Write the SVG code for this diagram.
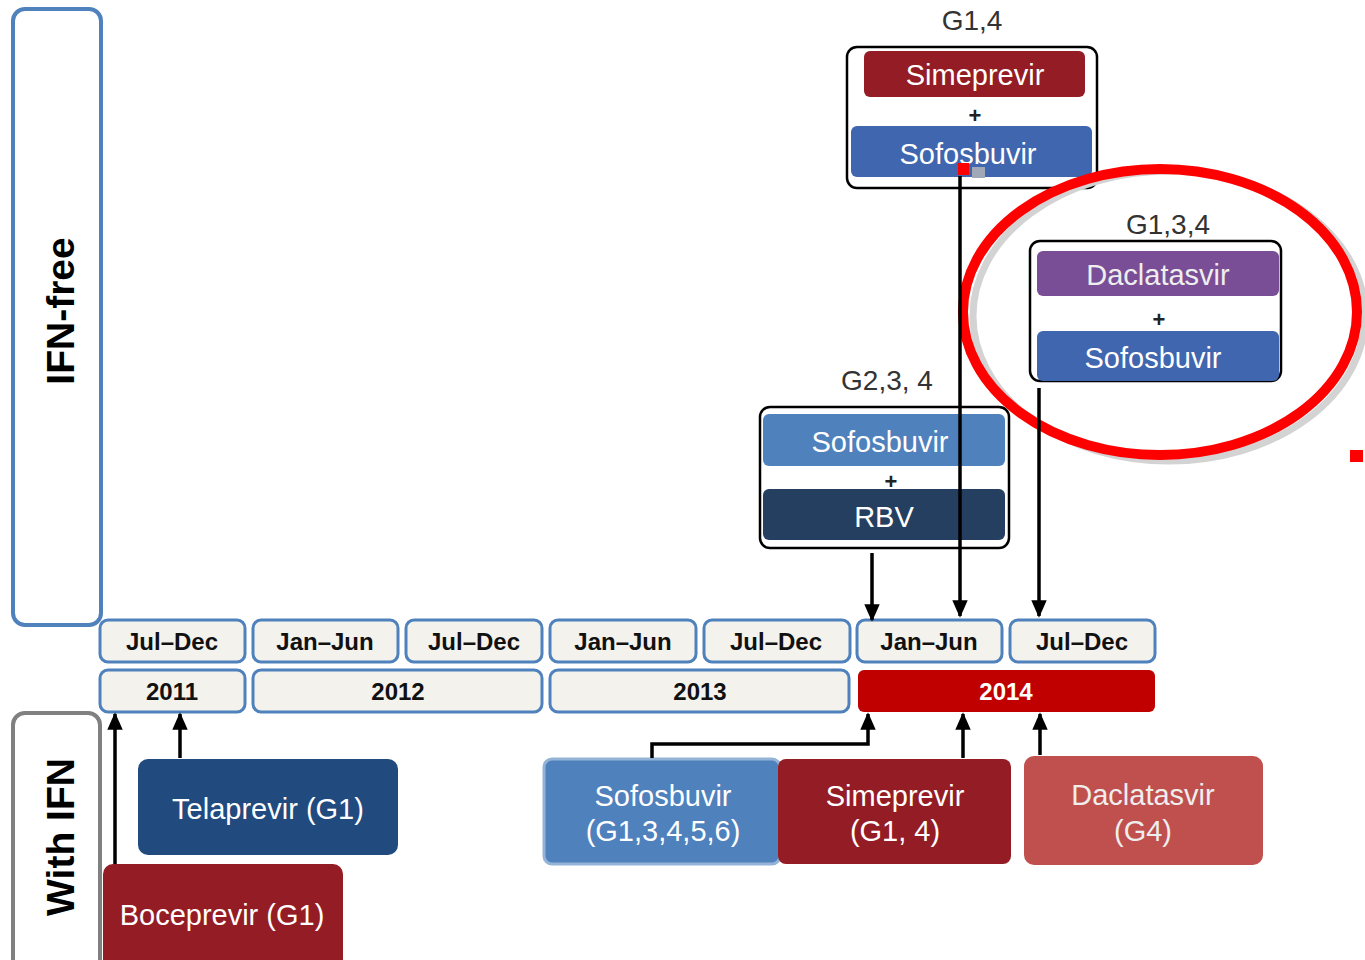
<svg xmlns="http://www.w3.org/2000/svg" width="1365" height="960" viewBox="0 0 1365 960">
<defs>
<marker id="ah" viewBox="0 0 10 10" refX="9" refY="5" markerWidth="5" markerHeight="4.4" orient="auto" markerUnits="strokeWidth" preserveAspectRatio="none">
<path d="M0,0 L10,5 L0,10 z" fill="#000"/>
</marker>
<style>
text{font-family:"Liberation Sans",Arial,sans-serif;}
.side{fill:#fff;stroke-width:4;}
.sidet{font-size:39px;font-weight:bold;fill:#000;text-anchor:middle;}
.tl{fill:#F3F2EC;stroke:#4F81BD;stroke-width:3;}
.tlt{font-size:24px;font-weight:bold;fill:#111;text-anchor:middle;}
.grp{fill:#fff;stroke:#000;stroke-width:2.5;}
.lbl{font-size:28px;fill:#333;text-anchor:middle;}
.bt{font-size:29px;fill:#fff;text-anchor:middle;}
.plus{font-size:22px;font-weight:bold;fill:#222;text-anchor:middle;}
.con{fill:none;stroke:#000;stroke-width:3.5;marker-end:url(#ah);}
</style>
</defs>

<g id="ifn-free">
<rect class="side" x="13" y="9" width="88" height="616" rx="12" stroke="#4F81BD"/>
<text class="sidet" transform="translate(74,311) rotate(-90)">IFN-free</text>
</g>
<g id="with-ifn">
<rect class="side" x="13" y="713" width="87" height="262" rx="12" stroke="#808080"/>
<text class="sidet" transform="translate(74,837) rotate(-90)">With IFN</text>
</g>

<g id="timeline-months">
<rect class="tl" x="100" y="620" width="145" height="42" rx="8"/><text class="tlt" x="172" y="650">Jul–Dec</text>
<rect class="tl" x="253" y="620" width="145" height="42" rx="8"/><text class="tlt" x="325" y="650">Jan–Jun</text>
<rect class="tl" x="406" y="620" width="136" height="42" rx="8"/><text class="tlt" x="474" y="650">Jul–Dec</text>
<rect class="tl" x="550" y="620" width="146" height="42" rx="8"/><text class="tlt" x="623" y="650">Jan–Jun</text>
<rect class="tl" x="704" y="620" width="146" height="42" rx="8"/><text class="tlt" x="776" y="650">Jul–Dec</text>
<rect class="tl" x="857" y="620" width="145" height="42" rx="8"/><text class="tlt" x="929" y="650">Jan–Jun</text>
<rect class="tl" x="1010" y="620" width="145" height="42" rx="8"/><text class="tlt" x="1082" y="650">Jul–Dec</text>
</g>
<g id="timeline-years">
<rect class="tl" x="100" y="670" width="145" height="42" rx="8"/><text class="tlt" x="172" y="700">2011</text>
<rect class="tl" x="253" y="670" width="289" height="42" rx="8"/><text class="tlt" x="398" y="700">2012</text>
<rect class="tl" x="550" y="670" width="299" height="42" rx="8"/><text class="tlt" x="700" y="700">2013</text>
<rect x="858" y="670" width="297" height="42" rx="6" fill="#C00000"/><text class="tlt" x="1006" y="700" style="fill:#fff">2014</text>
</g>

<g id="g14">
<text class="lbl" x="972" y="30">G1,4</text>
<rect class="grp" x="847" y="47" width="250" height="141" rx="10"/>
<rect x="864" y="51" width="221" height="46" rx="6" fill="#941C25"/>
<text class="bt" x="975" y="85">Simeprevir</text>
<text class="plus" x="975" y="123">+</text>
<rect x="851" y="126" width="241" height="51" rx="6" fill="#3F66AE"/>
<text class="bt" x="968" y="164">Sofosbuvir</text>
<rect x="958" y="163" width="11" height="12" fill="#FF0000"/>
<rect x="972" y="167" width="13" height="11" fill="#A0A8B8"/>
</g>

<g id="highlight">
<ellipse cx="1169" cy="316" rx="196" ry="145" fill="none" stroke="#D3D3D3" stroke-width="7"/>
<ellipse cx="1160" cy="312" rx="197" ry="143" fill="none" stroke="#FF0000" stroke-width="10"/>
</g>

<g id="g134">
<text class="lbl" x="1168" y="234">G1,3,4</text>
<rect class="grp" x="1030" y="241" width="251" height="140" rx="10"/>
<rect x="1037" y="251" width="242" height="45" rx="6" fill="#7A4E96"/>
<text class="bt" x="1158" y="285" style="fill:#eee">Daclatasvir</text>
<text class="plus" x="1159" y="327">+</text>
<rect x="1037" y="331" width="242" height="50" rx="6" fill="#3F66AE"/>
<text class="bt" x="1153" y="368">Sofosbuvir</text>
</g>

<g id="g234">
<text class="lbl" x="887" y="390">G2,3, 4</text>
<rect class="grp" x="760" y="407" width="249" height="141" rx="10"/>
<rect x="763" y="414" width="242" height="52" rx="6" fill="#4F81BD"/>
<text class="bt" x="880" y="452">Sofosbuvir</text>
<text class="plus" x="891" y="489">+</text>
<rect x="763" y="489" width="242" height="51" rx="6" fill="#243F60"/>
<text class="bt" x="884" y="527">RBV</text>
</g>

<rect x="1350" y="450" width="13" height="12" fill="#FF0000"/>

<g id="telaprevir">
<rect x="138" y="759" width="260" height="96" rx="10" fill="#214A7E"/>
<text class="bt" x="268" y="819">Telaprevir (G1)</text>
</g>
<g id="boceprevir">
<rect x="103" y="864" width="240" height="110" rx="10" fill="#941C25"/>
<text class="bt" x="222" y="925">Boceprevir (G1)</text>
</g>
<g id="sofosbuvir-ifn">
<rect x="544" y="759" width="236" height="105" rx="8" fill="#4F81BD" stroke="#95B3D7" stroke-width="3"/>
<text class="bt" x="663" y="806">Sofosbuvir</text>
<text class="bt" x="663" y="841">(G1,3,4,5,6)</text>
</g>
<g id="simeprevir-ifn">
<rect x="778" y="759" width="233" height="105" rx="8" fill="#941C25"/>
<text class="bt" x="895" y="806">Simeprevir</text>
<text class="bt" x="895" y="841">(G1, 4)</text>
</g>
<g id="daclatasvir-ifn">
<rect x="1024" y="756" width="239" height="109" rx="10" fill="#C0504D"/>
<text class="bt" x="1143" y="805" style="fill:#eee">Daclatasvir</text>
<text class="bt" x="1143" y="841" style="fill:#eee">(G4)</text>
</g>

<g id="connectors">
<path class="con" d="M960,176 V616"/>
<path class="con" d="M1039,388 V616"/>
<path class="con" d="M872,553 V620"/>
<path class="con" d="M115,864 V714"/>
<path class="con" d="M180,758 V714"/>
<path class="con" d="M652,758 V744 H868 V714"/>
<path class="con" d="M963,758 V714"/>
<path class="con" d="M1040,755 V714"/>
</g>
</svg>
